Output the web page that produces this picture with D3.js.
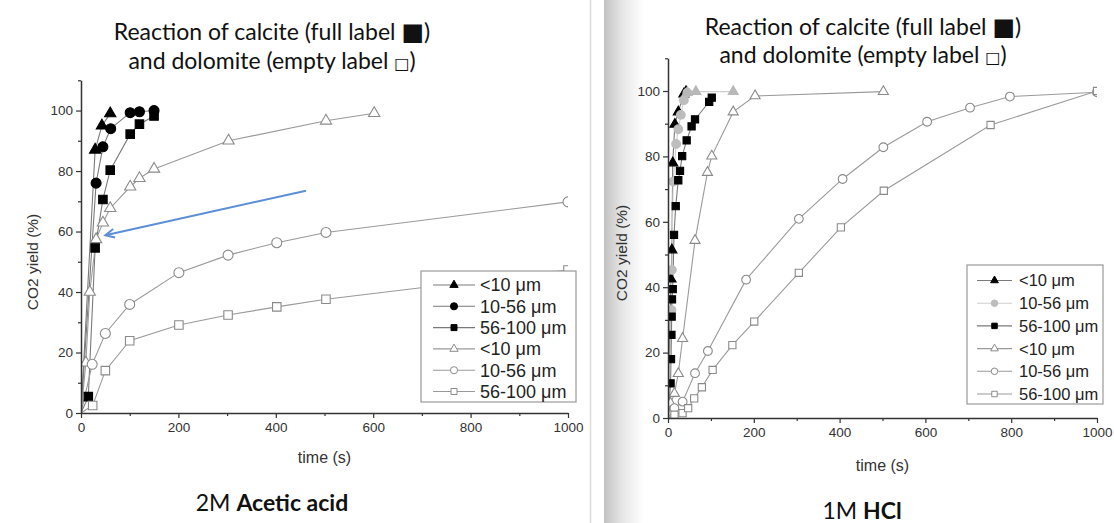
<!DOCTYPE html>
<html>
<meta charset="utf-8">
<title>CO2 yield - acetic acid vs HCl</title>
<style>
  body { margin: 0; background: #fff; }
</style>
<body>
<div id="chart"></div>
<script src="https://d3js.org/d3.v7.min.js"></script>
<script>
// ---- data: [time (s), CO2 yield (%)] ----
// 2M acetic acid
var acCalTri = [[0,0],[29,87],[43,95],[60,99]];
var acCalCirc = [[0,0],[31,76],[45,88],[61,94],[101,99.3],[120,99.6],[150,100]];
var acCalSq = [[0,0],[15,5.4],[29,54.6],[45,70.6],[60,80.3],[101,92.2],[120,95.5],[150,98.2]];
var acDolTri = [[0,0],[10,16.6],[18,40],[31,57.4],[45,62.9],[60,67.7],[101,74.8],[120,77.6],[150,80.7],[303,90],[503,96.6],[602,99.1]];
var acDolCirc = [[0,0],[23,16.1],[50,26.3],[100,35.9],[201,46.4],[302,52.2],[402,56.3],[503,59.7],[1000,69.8]];
var acDolSq = [[0,0],[24,2.5],[50,14],[100,23.9],[201,29.1],[302,32.4],[402,35.1],[503,37.6],[1000,47.3]];
var acArrow = [[462,73.5],[50,58.8]];

// 1M HCl
var hcCalTri = [[0,0],[7,42.5],[9,51.4],[11,78],[16,89.8],[24,93.6],[37,99.1],[42,99.8]];
var hcCalCirc = [[0,0],[8,33],[9,45.3],[12,72.3],[19,83.8],[24,88.3],[30,92.7],[37,97.2],[45,99.5]];
var hcCalCircTail = [[45,99.5],[65,99.8],[152,99.8]];
var hcCalSq = [[0,0],[6,10.6],[7,18],[8,25.4],[8.5,31],[9.3,36.3],[11,39.4],[14,56],[18,64.8],[24,72.7],[28,75.6],[33,80.1],[43.5,84.9],[55,89.2],[63,91.3],[96,96.7],[102,98]];
var hcDolTri = [[0,0],[6,4.5],[15,7.5],[24,13.6],[34,24.3],[63,54.3],[92,75.1],[102,80.1],[152,93.6],[203,98.5],[502,99.8]];
var hcDolCirc = [[0,0],[15,3],[34,5],[63,13.7],[93,20.5],[182,42.3],[305,60.9],[407,73.1],[502,82.8],[604,90.6],[704,94.9],[797,98.3],[1000,99.6]];
var hcDolSq = [[0,0],[15,1],[34,1.5],[47,3],[61,6],[79,9.4],[104,14.7],[150,22.3],[201,29.5],[305,44.4],[403,58.3],[503,69.5],[752,89.6],[1000,100]];

// ---- labels / ticks ----
var xTicks = [0, 200, 400, 600, 800, 1000];
var xMinor = [100, 300, 500, 700, 900];
var yTicks = [0, 20, 40, 60, 80, 100];
var yMinor = [10, 30, 50, 70, 90, 110];
var acLegend = ["<10 μm", "10-56  μm", "56-100 μm", "<10 μm", "10-56  μm", "56-100 μm"];
var hcLegend = ["<10 μm", "10-56 μm", "56-100 μm", "<10 μm", "10-56 μm", "56-100 μm"];
var titleLines = [["Reaction of calcite (full label ", "■", ")"], ["and dolomite (empty label ", "□", ")"]];

var ARIAL = "'Liberation Sans', Arimo, Arial, sans-serif";
var TITLE = "Lato, 'Open Sans', sans-serif";

var svg = d3.select("#chart").append("svg").attr("width", 1114).attr("height", 523);

// page gutter between the two slides
var grad = svg.append("defs").append("linearGradient").attr("id", "gutter");
grad.append("stop").attr("offset", "0%").attr("stop-color", "#c2c2c2");
grad.append("stop").attr("offset", "45%").attr("stop-color", "#e6e6e6");
grad.append("stop").attr("offset", "100%").attr("stop-color", "#fff");
svg.append("rect").attr("x", 604).attr("y", 0).attr("width", 40).attr("height", 523).attr("fill", "url(#gutter)");
svg.append("line").attr("x1", 590.5).attr("x2", 590.5).attr("y1", 0).attr("y2", 523)
  .attr("stroke", "#dadada").attr("stroke-width", 1.5);

var sym = { tri: d3.symbolTriangle, circ: d3.symbolCircle, sq: d3.symbolSquare };

function drawPanel(p) {
  var x = d3.scaleLinear().domain([0, 1000]).range(p.xr);
  var y = d3.scaleLinear().domain([0, 110]).range(p.yr);
  var g = svg.append("g");
  var clipId = "clip" + p.id;
  svg.select("defs").append("clipPath").attr("id", clipId).append("rect")
    .attr("x", p.xr[0]).attr("y", p.yr[1])
    .attr("width", p.xr[1] - p.xr[0]).attr("height", p.yr[0] - p.yr[1]);

  var plot = g.append("g").attr("clip-path", "url(#" + clipId + ")");
  var line = d3.line().x(function (d) { return x(d[0]); }).y(function (d) { return y(d[1]); });

  p.series.forEach(function (s) {
    plot.append("path").datum(s.data).attr("d", line)
      .attr("fill", "none").attr("stroke", s.line).attr("stroke-width", 1.1);
  });
  p.series.forEach(function (s) {
    plot.selectAll(null).data(s.data.filter(function (d) { return d[0] > 0; })).enter()
      .append("path")
      .attr("d", d3.symbol().type(sym[s.shape]).size(p.size[s.shape]))
      .attr("transform", function (d) { return "translate(" + x(d[0]) + "," + y(d[1]) + ")"; })
      .attr("fill", s.fill).attr("stroke", s.stroke).attr("stroke-width", 1.1);
  });

  // arrow annotation
  if (p.arrow) {
    var a0 = [x(p.arrow[0][0]), y(p.arrow[0][1])], a1 = [x(p.arrow[1][0]), y(p.arrow[1][1])];
    var ang = Math.atan2(a0[1] - a1[1], a0[0] - a1[0]);
    plot.append("line").attr("x1", a0[0]).attr("y1", a0[1]).attr("x2", a1[0]).attr("y2", a1[1])
      .attr("stroke", "#5b8ed6").attr("stroke-width", 2);
    var hl = 10, hw = 0.45;
    plot.append("path")
      .attr("d", "M" + (a1[0] + hl * Math.cos(ang + hw)) + "," + (a1[1] + hl * Math.sin(ang + hw)) +
        "L" + a1[0] + "," + a1[1] +
        "L" + (a1[0] + hl * Math.cos(ang - hw)) + "," + (a1[1] + hl * Math.sin(ang - hw)))
      .attr("fill", "none").attr("stroke", "#5b8ed6").attr("stroke-width", 2);
  }

  // axes
  g.append("g").attr("transform", "translate(0," + p.yr[0] + ")")
    .call(d3.axisBottom(x).tickValues(xTicks).tickFormat(d3.format("d")).tickSize(5).tickSizeOuter(0).tickPadding(4));
  g.append("g").attr("transform", "translate(0," + p.yr[0] + ")")
    .call(d3.axisBottom(x).tickValues(xMinor).tickSize(3).tickFormat("").tickSizeOuter(0))
    .select(".domain").remove();
  g.append("g").attr("transform", "translate(" + p.xr[0] + ",0)")
    .call(d3.axisLeft(y).tickValues(yTicks).tickSize(5).tickSizeOuter(0).tickPadding(3));
  g.append("g").attr("transform", "translate(" + p.xr[0] + ",0)")
    .call(d3.axisLeft(y).tickValues(yMinor).tickSize(3).tickFormat("").tickSizeOuter(0))
    .select(".domain").remove();
  g.selectAll(".domain").attr("stroke", "#333").attr("stroke-width", 1.5);
  g.selectAll(".tick line").attr("stroke", "#333").attr("stroke-width", 1.2);
  g.selectAll(".tick text").style("font-size", "13.5px").style("fill", "#333").style("font-family", ARIAL);

  // axis titles
  g.append("text").attr("x", (p.xr[0] + p.xr[1]) / 2).attr("y", p.xTitleY)
    .attr("text-anchor", "middle").style("font-family", ARIAL).style("font-size", "16px")
    .style("fill", "#333").text("time (s)");
  g.append("text").attr("transform", "translate(" + p.yTitleX + "," + p.yTitleY + ") rotate(-90)")
    .attr("text-anchor", "middle").style("font-family", ARIAL).style("font-size", "15.5px")
    .style("fill", "#333").text("CO2 yield (%)");

  // legend
  var L = p.legend;
  var lg = g.append("g");
  lg.append("rect").attr("x", L.x).attr("y", L.y).attr("width", L.w).attr("height", L.h)
    .attr("fill", "#fff").attr("stroke", "#999").attr("stroke-width", 1.2);
  p.series.slice(0, 6).forEach(function (s, i) {
    var ry = L.y + L.first + i * L.step;
    lg.append("line").attr("x1", L.lx0).attr("x2", L.lx1).attr("y1", ry).attr("y2", ry)
      .attr("stroke", s.line).attr("stroke-width", 1.1);
    lg.append("path").attr("d", d3.symbol().type(sym[s.shape]).size(L.size[s.shape]))
      .attr("transform", "translate(" + ((L.lx0 + L.lx1) / 2) + "," + ry + ")")
      .attr("fill", s.fill).attr("stroke", s.stroke).attr("stroke-width", 1);
    lg.append("text").attr("x", L.tx).attr("y", ry).attr("dy", "0.36em")
      .style("font-family", ARIAL).style("font-size", L.fs + "px").style("fill", "#222").text(p.labels[i]);
  });

  // titles
  titleLines.forEach(function (t, i) {
    var tt = g.append("text").attr("x", p.titleX).attr("y", p.titleY[i])
      .attr("text-anchor", "middle").style("font-family", TITLE).style("font-size", "23px").style("fill", "#111");
    tt.append("tspan").text(t[0]);
    tt.append("tspan").style("font-family", "'DejaVu Sans', sans-serif")
      .style("font-size", i === 0 ? "24px" : "16px").text(t[1]);
    tt.append("tspan").text(t[2]);
  });
  var bt = g.append("text").attr("x", p.bottomX).attr("y", p.bottomY)
    .attr("text-anchor", "middle").style("font-family", TITLE).style("font-size", "23px").style("fill", "#111");
  bt.append("tspan").text(p.bottom[0] + " ");
  bt.append("tspan").style("font-weight", "bold").text(p.bottom[1]);
}

var fullTri = { shape: "tri", fill: "#000", stroke: "#000", line: "#7a7a7a" };
var emptyStyle = { fill: "#fff", stroke: "#8a8a8a", line: "#9a9a9a" };

drawPanel({
  id: "ac", xr: [81, 568], yr: [413, 80.3],
  size: { tri: 55, circ: 78, sq: 72 },
  series: [
    Object.assign({ data: acCalTri }, fullTri),
    { data: acCalCirc, shape: "circ", fill: "#000", stroke: "#000", line: "#7a7a7a" },
    { data: acCalSq, shape: "sq", fill: "#000", stroke: "#000", line: "#7a7a7a" },
    Object.assign({ data: acDolTri, shape: "tri" }, emptyStyle),
    Object.assign({ data: acDolCirc, shape: "circ" }, emptyStyle),
    Object.assign({ data: acDolSq, shape: "sq" }, emptyStyle)
  ],
  labels: acLegend,
  arrow: acArrow,
  legend: { x: 421, y: 271, w: 155, h: 131, first: 14, step: 21.3, lx0: 433, lx1: 475, tx: 480, fs: 18,
            size: { tri: 30, circ: 40, sq: 36 } },
  xTitleY: 463, yTitleX: 38, yTitleY: 262,
  titleX: 272, titleY: [40, 69],
  bottom: ["2M", "Acetic acid"], bottomX: 272, bottomY: 511
});

drawPanel({
  id: "hc", xr: [668, 1097], yr: [418, 58.3],
  size: { tri: 44, circ: 60, sq: 52 },
  series: [
    Object.assign({ data: hcCalTri }, fullTri),
    { data: hcCalCirc, shape: "circ", fill: "#bdbdbd", stroke: "#bdbdbd", line: "#cfcfcf" },
    { data: hcCalSq, shape: "sq", fill: "#000", stroke: "#000", line: "#7a7a7a" },
    Object.assign({ data: hcDolTri, shape: "tri" }, emptyStyle),
    Object.assign({ data: hcDolCirc, shape: "circ" }, emptyStyle),
    Object.assign({ data: hcDolSq, shape: "sq" }, emptyStyle),
    { data: hcCalCircTail, shape: "tri", fill: "#b8b8b8", stroke: "#b8b8b8", line: "#cfcfcf" }
  ],
  labels: hcLegend,
  legend: { x: 967, y: 265, w: 136, h: 139, first: 15.5, step: 22.7, lx0: 977, lx1: 1012, tx: 1019, fs: 16.5,
            size: { tri: 26, circ: 34, sq: 30 } },
  xTitleY: 471, yTitleX: 627, yTitleY: 253,
  titleX: 863, titleY: [35, 63],
  bottom: ["1M", "HCl"], bottomX: 862, bottomY: 519
});
</script>
</body>
</html>
